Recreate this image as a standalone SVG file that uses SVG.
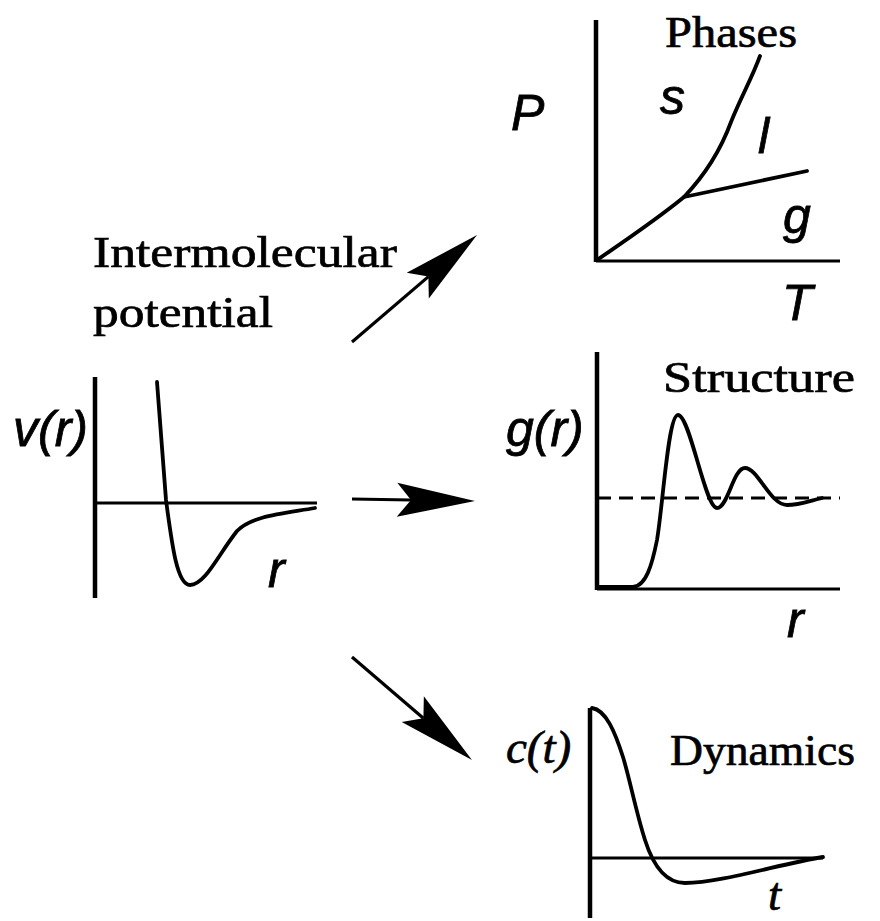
<svg xmlns="http://www.w3.org/2000/svg" width="880" height="921" viewBox="0 0 880 921">
<style>
.ax{stroke:#000;stroke-width:4.5;fill:none}
.hx{stroke:#000;stroke-width:3.2;fill:none}
.cv{stroke:#000;stroke-width:3.8;fill:none;stroke-linejoin:round;stroke-linecap:round}
.dash{stroke:#000;stroke-width:2.8;fill:none;stroke-dasharray:14 8}
.ser{font-family:"Liberation Serif","Times New Roman",serif;font-size:45px;fill:#000;stroke:#000;stroke-width:0.7}
.it{font-family:"Liberation Sans",Arial,sans-serif;font-style:italic;font-size:50px;fill:#000;stroke:#000;stroke-width:0.8}
.its{font-family:"Liberation Serif","Times New Roman",serif;font-style:italic;font-size:47px;fill:#000;stroke:#000;stroke-width:0.7}
.arr{stroke:#000;stroke-width:3.2;fill:none;marker-end:url(#head)}
</style>
<defs>
<marker id="head" markerUnits="userSpaceOnUse" viewBox="-80 -20 80 40" markerWidth="80" markerHeight="40" refX="-64" refY="0" orient="auto">
<path d="M0,0 L-78,-17 L-64,0 L-78,17 Z" fill="#000"/>
</marker>
</defs>
<rect width="880" height="921" fill="#fff"/>

<g id="potential">
<text class="ser" x="93" y="267" textLength="304" lengthAdjust="spacingAndGlyphs">Intermolecular</text>
<text class="ser" x="93" y="327" textLength="180" lengthAdjust="spacingAndGlyphs">potential</text>
<text class="it" x="13" y="446">v(r)</text>
<line class="ax" x1="95" y1="377" x2="95" y2="598"/>
<line class="hx" x1="95" y1="503" x2="317" y2="503"/>
<path class="cv" d="M157,382 L166,500 C172,545 177,585 190,585 C205,585 218,555 237,531 C252,516 280,514 315,508"/>
<text class="it" x="268" y="587">r</text>
</g>

<g id="phases">
<text class="ser" x="665" y="47" textLength="132" lengthAdjust="spacingAndGlyphs">Phases</text>
<text class="it" x="511" y="130" font-size="52">P</text>
<line class="ax" x1="596" y1="20" x2="596" y2="262"/>
<line class="hx" x1="596" y1="261" x2="840" y2="261"/>
<path class="cv" d="M597,260 C626,240 656,220 684,197 C704,176 720,152 731,122 C741,97 752,78 760,56"/>
<line class="cv" x1="684" y1="197" x2="807" y2="171"/>
<text class="it" x="660" y="114">s</text>
<text class="it" x="758" y="153">l</text>
<text class="it" x="783" y="233">g</text>
<text class="it" x="782" y="320">T</text>
</g>

<g id="structure">
<text class="ser" x="663" y="392" textLength="192" lengthAdjust="spacingAndGlyphs">Structure</text>
<text class="it" x="506" y="446">g(r)</text>
<line class="ax" x1="597" y1="352" x2="597" y2="590"/>
<line class="hx" x1="597" y1="589" x2="840" y2="589"/>
<line class="dash" x1="597" y1="498" x2="840" y2="498"/>
<path class="cv" d="M597,587 L633,587 C646,586 652,565 657,540 C663,505 668,415 678,415 C690,415 705,508 717,508 C728,508 733,468 745,468 C758,468 770,505 787,505 C800,505 812,500 822,498"/>
<text class="it" x="787" y="637">r</text>
</g>

<g id="dynamics">
<text class="ser" x="670" y="765" textLength="185" lengthAdjust="spacingAndGlyphs">Dynamics</text>
<text class="its" x="506" y="763">c(t)</text>
<line class="ax" x1="590" y1="708" x2="590" y2="918"/>
<line class="hx" x1="590" y1="858" x2="823" y2="858"/>
<path class="cv" d="M592,708 C606,710 615,732 623,757 C630,780 636,812 645,840 C652,862 664,883 685,883 C720,883 780,864 823,857"/>
<text class="its" x="768" y="910" font-size="42">t</text>
</g>

<g id="connectors">
<path class="arr" d="M352,342 L428.4,276.6"/>
<path class="arr" d="M352,499 L411,500"/>
<path class="arr" d="M352,657 L423.4,718.3"/>
</g>
</svg>
